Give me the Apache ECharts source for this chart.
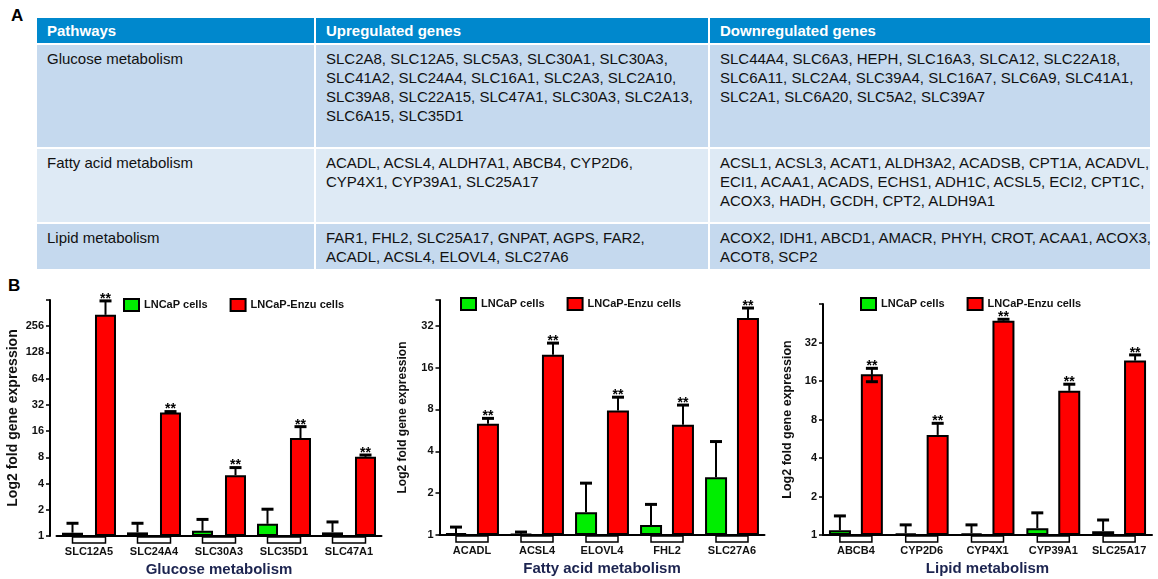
<!DOCTYPE html>
<html>
<head>
<meta charset="utf-8">
<script src="https://cdn.jsdelivr.net/npm/echarts@6/dist/echarts.min.js"></script>
<style>
  body { margin: 0; width: 1158px; height: 579px; position: relative; overflow: hidden; background: #fff;
         font-family: "Liberation Sans", Arial, sans-serif; }
  .panel { position: absolute; font-weight: bold; font-size: 17px; color: #000; }
  #tbl { position: absolute; left: 35px; top: 16px; width: 1117px; table-layout: fixed;
         border-collapse: separate; border-spacing: 2px; font-size: 15px; color: #111; }
  #tbl th { background: #0088cd; color: #fff; text-align: left; height: 25px; padding: 0 10px; font-size: 15px; }
  #tbl td { vertical-align: top; padding: 4px 8px 0 10px; line-height: 19px; box-sizing: border-box; white-space: nowrap; }
  #tbl tr.r0 td { background: #c5d9ee; height: 102px; }
  #tbl tr.r1 td { background: #deeaf5; height: 73px; }
  #tbl tr.r2 td { background: #c5d9ee; height: 45px; }
  #chart { position: absolute; left: 0; top: 275px; width: 1158px; height: 304px; }
</style>
</head>
<body>
<div class="panel" style="left:11px;top:6px;">A</div>
<div class="panel" style="left:8px;top:276px;">B</div>
<table id="tbl">
  <colgroup><col style="width:277px"><col style="width:392px"><col style="width:440px"></colgroup>
  <thead><tr id="head"></tr></thead>
  <tbody id="body"></tbody>
</table>
<div id="chart"></div>
<script>
  // ---- table (A) ----
  var tableHeader = ['Pathways', 'Upregulated genes', 'Downregulated genes'];
  var pathways = ['Glucose metabolism', 'Fatty acid metabolism', 'Lipid metabolism'];
  var upGenes = [
    ['SLC2A8, SLC12A5, SLC5A3, SLC30A1, SLC30A3,', 'SLC41A2, SLC24A4, SLC16A1, SLC2A3, SLC2A10,',
     'SLC39A8, SLC22A15, SLC47A1, SLC30A3, SLC2A13,', 'SLC6A15, SLC35D1'],
    ['ACADL, ACSL4, ALDH7A1, ABCB4, CYP2D6,', 'CYP4X1, CYP39A1, SLC25A17'],
    ['FAR1, FHL2, SLC25A17, GNPAT, AGPS, FAR2,', 'ACADL, ACSL4, ELOVL4, SLC27A6']
  ];
  var downGenes = [
    ['SLC44A4, SLC6A3, HEPH, SLC16A3, SLCA12, SLC22A18,', 'SLC6A11, SLC2A4, SLC39A4, SLC16A7, SLC6A9, SLC41A1,',
     'SLC2A1, SLC6A20, SLC5A2, SLC39A7'],
    ['ACSL1, ACSL3, ACAT1, ALDH3A2, ACADSB, CPT1A, ACADVL,', 'ECI1, ACAA1, ACADS, ECHS1, ADH1C, ACSL5, ECI2, CPT1C,',
     'ACOX3, HADH, GCDH, CPT2, ALDH9A1'],
    ['ACOX2, IDH1, ABCD1, AMACR, PHYH, CROT, ACAA1, ACOX3,', 'ACOT8, SCP2']
  ];

  document.getElementById('head').innerHTML = tableHeader.map(function (h) { return '<th>' + h + '</th>'; }).join('');
  document.getElementById('body').innerHTML = pathways.map(function (p, i) {
    return '<tr class="r' + i + '"><td>' + p + '</td><td>' + upGenes[i].join('<br>') +
      '</td><td>' + downGenes[i].join('<br>') + '</td></tr>';
  }).join('');

  // ---- bar charts (B) ----
  var glucoseGenes = ['SLC12A5', 'SLC24A4', 'SLC30A3', 'SLC35D1', 'SLC47A1'];
  var glucoseLncap = [1.09, 1.1, 1.15, 1.38, 1.1];
  var glucoseLncapErr = [1.4, 1.4, 1.55, 2.03, 1.45];
  var glucoseEnzu = [346, 26.1, 4.98, 13.3, 8.1];
  var glucoseEnzuErr = [500, 26.8, 6.1, 18.0, 8.5];

  var fattyGenes = ['ACADL', 'ACSL4', 'ELOVL4', 'FHL2', 'SLC27A6'];
  var fattyLncap = [1.03, 1.02, 1.46, 1.18, 2.6];
  var fattyLncapErr = [1.14, 1.05, 2.36, 1.66, 4.7];
  var fattyEnzu = [6.3, 19.8, 7.85, 6.2, 36.3];
  var fattyEnzuErr = [6.9, 24, 9.8, 8.6, 42.9];

  var lipidGenes = ['ABCB4', 'CYP2D6', 'CYP4X1', 'CYP39A1', 'SLC25A17'];
  var lipidLncap = [1.09, 1.03, 1.03, 1.13, 1.07];
  var lipidLncapErr = [1.41, 1.2, 1.2, 1.49, 1.31];
  var lipidEnzu = [18.1, 6.06, 47.4, 13.4, 23.1];
  var lipidEnzuErr = [20.1, 7.47, 48.6, 15.1, 25.6];
  var lipidEnzuErrLow = [15.8, null, null, null, null];

  var panels = [
    { title: 'Glucose metabolism', genes: glucoseGenes, lncap: glucoseLncap, lncapErr: glucoseLncapErr,
      enzu: glucoseEnzu, enzuErr: glucoseEnzuErr, enzuLow: [],
      grid: { left: 56.5, top: 25, width: 325, height: 236 }, yMax: 512, yOffset: 6.5,
      barW: 21, gap: 12, legendLeft: 123, legendTop: 23, nameGap: 30, nameSize: 14 },
    { title: 'Fatty acid metabolism', genes: fattyGenes, lncap: fattyLncap, lncapErr: fattyLncapErr,
      enzu: fattyEnzu, enzuErr: fattyEnzuErr, enzuLow: [],
      grid: { left: 439.5, top: 25, width: 325, height: 235 }, yMax: 49, yOffset: 0,
      barW: 22, gap: 10, legendLeft: 460, legendTop: 22, nameGap: 31, nameSize: 12 },
    { title: 'Lipid metabolism', genes: lipidGenes, lncap: lipidLncap, lncapErr: lipidLncapErr,
      enzu: lipidEnzu, enzuErr: lipidEnzuErr, enzuLow: lipidEnzuErrLow,
      grid: { left: 823, top: 29, width: 329, height: 231 }, yMax: 64, yOffset: 0,
      barW: 22, gap: 10, legendLeft: 860, legendTop: 22, nameGap: 29, nameSize: 12.5 }
  ];

  var FONT = '"Liberation Sans", Arial, sans-serif';

  function errorBars(shift, stars) {
    return function (params, api) {
      var idx = api.value(0);
      var top = api.coord([idx, api.value(1)]);
      var cap = api.coord([idx, api.value(2)]);
      var x = top[0] + shift;
      var kids = [
        { type: 'line', shape: { x1: x, y1: top[1], x2: x, y2: cap[1] }, style: { stroke: '#000', lineWidth: 2 } },
        { type: 'line', shape: { x1: x - 6, y1: cap[1], x2: x + 6, y2: cap[1] }, style: { stroke: '#000', lineWidth: 3 } }
      ];
      var low = api.value(3);
      if (!isNaN(low) && low > 0) {
        var lc = api.coord([idx, low]);
        kids.push({ type: 'line', shape: { x1: x, y1: top[1], x2: x, y2: lc[1] }, style: { stroke: '#000', lineWidth: 2 } });
        kids.push({ type: 'line', shape: { x1: x - 6, y1: lc[1], x2: x + 6, y2: lc[1] }, style: { stroke: '#000', lineWidth: 3 } });
      }
      if (stars) {
        kids.push({ type: 'text', style: { text: '**', x: x, y: cap[1] + 5, align: 'center', verticalAlign: 'bottom',
          font: 'bold 14px ' + FONT, fill: '#000' } });
      }
      return { type: 'group', children: kids };
    };
  }

  function baseBoxes(shift) {
    return function (params, api) {
      var p = api.coord([api.value(0), 1]);
      return { type: 'rect', shape: { x: p[0] - shift, y: p[1] + 1, width: shift * 2, height: 6 },
        style: { fill: '#fff', stroke: '#000', lineWidth: 1.5 } };
    };
  }

  var option = {
    animation: false,
    textStyle: { fontFamily: FONT },
    grid: [], xAxis: [], yAxis: [], legend: [], series: []
  };

  panels.forEach(function (pn, i) {
    var shift = (pn.barW + pn.gap) / 2;
    var labelMax = pn.yMax === 49 ? 32 : pn.yMax / 2;
    var g = pn.grid;
    option.grid.push({ left: g.left, top: g.top, width: g.width, height: g.height,
      containLabel: false, outerBoundsMode: 'none' });
    option.xAxis.push({
      type: 'category', gridIndex: i, data: pn.genes,
      axisLine: { onZero: false, lineStyle: { color: '#000', width: 2 } },
      axisTick: { show: false },
      axisLabel: { interval: 0, margin: 10, fontWeight: 'bold', fontSize: 11, color: '#111' },
      name: pn.title, nameLocation: 'middle', nameGap: 25,
      nameTextStyle: { fontWeight: 'bold', fontSize: 15, color: '#1c2450' }
    });
    option.yAxis.push({
      type: 'log', logBase: 2, min: 1, max: pn.yMax, gridIndex: i, offset: pn.yOffset,
      axisLine: { show: true, lineStyle: { color: '#000', width: 2 } },
      axisTick: { show: true, length: 4, lineStyle: { color: '#000', width: 1.5 } },
      splitLine: { show: false },
      axisLabel: {
        fontWeight: 'bold', fontSize: 11, color: '#111', margin: 6,
        formatter: function (v) {
          var l = Math.log2(v);
          if (Math.abs(l - Math.round(l)) > 1e-6 || v > labelMax + 0.5) return '';
          return String(Math.round(v));
        }
      },
      name: 'Log2 fold gene expression', nameLocation: 'middle', nameGap: pn.nameGap,
      nameTextStyle: { fontWeight: 'bold', fontSize: pn.nameSize, color: '#111' }
    });
    option.legend.push({
      left: pn.legendLeft, top: pn.legendTop, padding: 0, icon: 'rect',
      itemWidth: 15, itemHeight: 12, itemGap: 22,
      textStyle: { fontWeight: 'bold', fontSize: 11, color: '#111' },
      data: ['LNCaP cells', 'LNCaP-Enzu cells']
    });
    option.series.push({
      type: 'bar', name: 'LNCaP cells', xAxisIndex: i, yAxisIndex: i, data: pn.lncap,
      barWidth: pn.barW, barGap: (pn.gap / pn.barW * 100).toFixed(0) + '%',
      itemStyle: { color: '#00ee00', borderColor: '#000', borderWidth: 2 }
    });
    option.series.push({
      type: 'bar', name: 'LNCaP-Enzu cells', xAxisIndex: i, yAxisIndex: i, data: pn.enzu,
      barWidth: pn.barW,
      itemStyle: { color: '#ff0000', borderColor: '#000', borderWidth: 2 }
    });
    option.series.push({
      type: 'custom', xAxisIndex: i, yAxisIndex: i, z: 3, clip: false,
      renderItem: errorBars(-shift, false),
      data: pn.genes.map(function (g, k) { return [k, pn.lncap[k], pn.lncapErr[k], null]; })
    });
    option.series.push({
      type: 'custom', xAxisIndex: i, yAxisIndex: i, z: 3, clip: false,
      renderItem: errorBars(shift, true),
      data: pn.genes.map(function (g, k) {
        return [k, pn.enzu[k], pn.enzuErr[k], pn.enzuLow[k] == null ? null : pn.enzuLow[k]];
      })
    });
    option.series.push({
      type: 'custom', xAxisIndex: i, yAxisIndex: i, z: 1, clip: false,
      renderItem: baseBoxes(shift),
      data: pn.genes.map(function (g, k) { return [k, 1]; })
    });
  });

  var chart = echarts.init(document.getElementById('chart'));
  chart.setOption(option);
</script>
</body>
</html>
